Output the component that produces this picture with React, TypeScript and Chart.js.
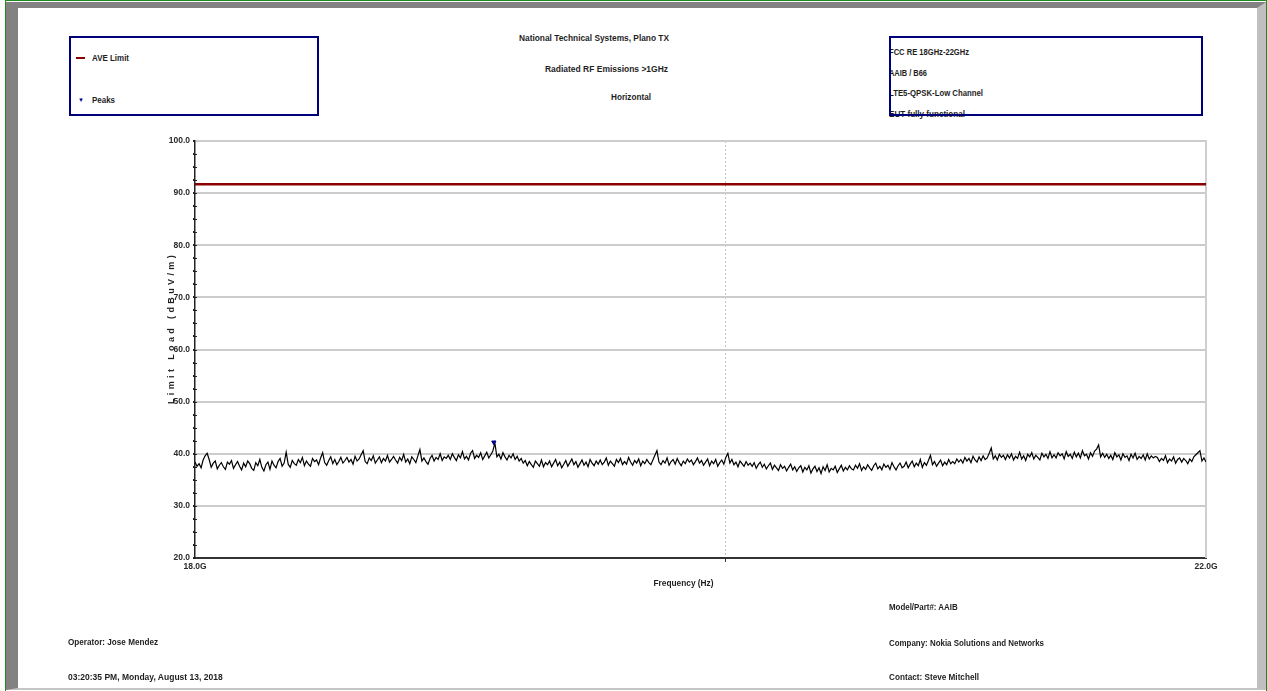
import React, { useEffect, useRef } from "react";
import { Chart, registerables } from "chart.js";

Chart.register(...registerables);

// ---------- data ----------
const freqStartGHz = 18;
const freqEndGHz = 22;
const xTickValues = [18, 20, 22];
const yMin = 20;
const yMax = 100;
const yLabelStep = 10;
const yMinorStep = 2.5;

const limitLabel = "AVE Limit";
const limitLevel = 91.7;

const peaksLabel = "Peaks";
const peakFreqs = [19.1];
const peakLevels = [42.2];

// measured trace (dBuV/m), sweep points spread evenly over the log frequency axis 18 GHz -> 22 GHz
const traceLevels = [
  38.4, 37.6, 38.1, 37.3, 38.8, 39.6, 40.1, 38.9, 37.4, 38.2, 38.6, 37.1, 37.8, 38.3, 37.5, 37.0, 38.4, 38.0, 38.7, 37.2, 37.9, 38.5, 37.6, 36.9, 38.2,
  37.5, 38.6, 38.1, 37.2, 36.8, 38.3, 37.7, 38.9, 37.4, 36.7, 37.9, 38.4, 37.0, 38.6, 37.8, 37.3, 38.5, 39.1, 37.6, 38.2, 40.3, 38.0, 37.4, 38.7, 38.1,
  37.8, 38.9, 38.3, 39.3, 37.7, 38.6, 38.0, 37.6, 39.1, 38.5, 38.8, 37.9, 39.2, 40.2, 38.3, 37.8, 38.7, 39.4, 38.1, 38.9, 37.9, 38.5, 39.3, 38.2, 38.7,
  39.3, 38.4, 38.9, 38.0, 39.5, 38.6, 39.0, 39.8, 40.6, 38.5, 38.1, 39.2, 38.7, 39.6, 38.2, 38.8, 39.4, 38.3, 39.1, 38.6, 39.7, 38.4, 38.9, 39.5, 38.8,
  38.2, 39.3, 38.7, 39.9, 38.4, 39.0, 38.1, 39.4, 38.9, 38.3, 39.6, 40.8, 38.6, 39.2, 38.5, 38.0, 39.1, 39.7, 38.6, 39.3, 38.9, 40.0, 38.7, 39.4, 39.1,
  39.7, 38.9, 40.0, 39.3, 38.7, 39.8, 39.2, 40.4, 39.0, 39.5, 38.8, 40.1, 40.6, 39.1, 39.7, 39.3, 40.2, 38.9, 39.6, 40.3, 39.2, 39.8, 40.5, 42.1, 39.4,
  39.9, 39.0, 40.2, 39.4, 38.8, 39.7, 39.2, 40.0, 38.9, 39.5, 38.6, 39.1, 38.2, 38.7, 37.7, 38.5, 37.9, 37.4, 38.6, 38.1, 37.6, 38.8, 37.5, 38.3, 37.9,
  38.6, 37.5, 38.2, 38.9, 37.7, 38.4, 37.3, 38.0, 38.7, 37.6, 38.3, 39.0, 37.9, 38.5, 37.4, 38.1, 38.8, 37.8, 38.4, 37.5, 38.9, 38.2, 37.7, 38.6, 38.0,
  38.8, 37.9, 38.4, 39.2, 37.8, 38.6, 38.1, 37.6, 38.9, 38.3, 39.1, 37.9, 38.5, 38.0, 39.3, 38.4, 37.8, 38.7, 38.2, 39.0, 37.7, 38.6, 38.1, 38.9, 38.3,
  37.9, 38.8, 39.7, 40.6, 38.4, 37.9, 38.7, 38.2, 39.2, 37.8, 38.5, 38.9, 38.0, 39.1, 38.3, 37.7, 38.6, 38.1, 39.0, 38.4, 38.8, 37.9, 38.5, 39.2, 38.2,
  38.7, 37.8, 38.4, 39.0, 37.7, 38.6, 38.1, 38.9, 37.6, 38.3, 38.8, 38.0, 39.3, 40.1, 38.2, 38.9, 37.9, 38.4, 37.5, 38.6, 38.1, 37.6, 38.5, 37.8, 38.2,
  37.6, 38.3, 37.2, 37.9, 38.4, 37.4, 38.0, 37.1, 37.7, 38.2, 37.0, 37.8, 37.3, 36.8, 37.9, 37.2, 37.6, 36.7, 37.4, 38.0, 36.9, 37.5, 36.6, 37.3, 37.7,
  36.5, 37.4, 36.9, 37.7, 36.3, 37.1, 37.6, 36.6, 37.3, 36.2, 37.5, 36.8, 37.9, 36.5, 37.2, 36.9, 37.6, 36.4, 37.1, 37.8, 36.7, 37.4, 36.9, 37.7, 37.1,
  36.9, 37.8, 37.2, 38.1, 36.8, 37.5, 37.0, 37.9, 37.3, 36.8, 37.7, 38.2, 37.1, 37.6, 36.9, 38.0, 37.4, 37.8, 37.0, 38.3, 37.5, 36.9, 37.7, 38.2, 37.3,
  37.6, 38.4, 37.3, 38.0, 38.6, 37.5, 38.2, 37.7, 38.9, 37.4, 38.3, 37.8, 38.7, 39.7, 37.9, 38.5, 37.6, 38.2, 38.8, 37.7, 38.4, 37.9, 38.9, 38.1, 38.5,
  38.1, 39.0, 38.4, 38.9, 38.2, 39.3, 38.6, 39.1, 38.3, 39.5, 38.8, 38.4, 39.4, 38.7, 39.6, 38.9, 39.2, 40.1, 41.1, 39.0, 39.6, 38.8, 39.9, 39.3, 39.7,
  38.9, 39.8, 39.2, 40.0, 38.8, 39.5, 39.1, 40.3, 39.0, 39.6, 38.7, 39.9, 39.4, 40.2, 39.0, 39.7, 39.3, 38.8, 40.1, 39.4, 39.9, 39.1, 40.4, 39.2, 39.8,
  39.2, 40.2, 39.6, 40.0, 39.0, 40.4, 39.5, 39.9, 39.1, 40.3, 39.4, 40.1, 39.2, 40.6, 39.6, 39.9, 39.0, 40.2, 39.5, 40.5, 40.9, 41.7, 39.4, 40.1, 39.3,
  39.9, 39.1, 39.7, 38.9, 40.2, 39.4, 39.8, 38.8, 40.0, 39.3, 39.6, 38.7, 39.9, 39.2, 40.1, 38.9, 39.5, 39.1, 39.8, 38.8, 40.0, 39.0, 39.6, 39.2, 39.5,
  39.3, 38.5, 39.1, 38.7, 39.6, 38.3, 39.0, 38.6, 39.4, 38.2, 38.9, 39.2, 38.4, 39.1, 38.7, 38.1, 39.0, 38.5, 39.4, 39.8, 40.2, 40.6, 38.6, 39.2, 38.4,
];

// ---------- texts ----------
const headerLines = ["National Technical Systems, Plano TX", "Radiated RF Emissions >1GHz", "Horizontal"];
const infoLines = ["FCC RE 18GHz-22GHz", "AAIB / B66", "LTE5-QPSK-Low Channel", "EUT fully functional"];
const footerLeft = ["Operator: Jose Mendez", "03:20:35 PM, Monday, August 13, 2018"];
const footerRight = ["Model/Part#: AAIB", "Company: Nokia Solutions and Networks", "Contact: Steve Mitchell"];
const xAxisTitle = "Frequency (Hz)";
const yAxisTitle = "Limit Load (dBuV/m)";

const FONT = '"Liberation Sans", Arial, sans-serif';
const W = 1267;
const H = 691;
const AREA = { left: 195, top: 141, right: 1206, bottom: 558 };
const Y_AXIS_W = 40;
const X_AXIS_H = 20;

let measureCtx: CanvasRenderingContext2D | null = null;
function measure(text: string, size: number): number {
  if (!measureCtx) measureCtx = document.createElement("canvas").getContext("2d");
  if (!measureCtx) return text.length * size * 0.55;
  measureCtx.font = `bold ${size}px ${FONT}`;
  return measureCtx.measureText(text).width;
}

function T(props: { x: number; y: number; w: number; size?: number; children: string; center?: boolean }) {
  const size = props.size || 9;
  const m = measure(props.children, size);
  const k = props.w / m;
  const left = props.center ? props.x - m / 2 : props.x;
  return (
    <div
      style={{
        position: "absolute",
        left,
        top: props.y - 7,
        height: 14,
        lineHeight: "14px",
        fontFamily: FONT,
        fontWeight: "bold",
        fontSize: size,
        color: "#1e1e1e",
        whiteSpace: "nowrap",
        transform: `scaleX(${k})`,
        transformOrigin: props.center ? "center center" : "left center",
      }}
    >
      {props.children}
    </div>
  );
}

export default function App() {
  const canvasRef = useRef<HTMLCanvasElement | null>(null);

  useEffect(() => {
    document.body.style.margin = "0";
    const canvas = canvasRef.current;
    if (!canvas) return;

    const n = traceLevels.length;
    const ratio = freqEndGHz / freqStartGHz;
    const tracePts = traceLevels.map((v, i) => ({ x: freqStartGHz * Math.pow(ratio, i / (n - 1)), y: v }));
    const limitPts = [
      { x: freqStartGHz, y: limitLevel },
      { x: freqEndGHz, y: limitLevel },
    ];
    const peakPts = peakFreqs.map((f, i) => ({ x: f, y: peakLevels[i] }));

    const edgePlugin = {
      id: "edge",
      beforeDatasetsDraw(chart: any) {
        const { ctx, chartArea, scales } = chart;
        const x = Math.round(scales.x.getPixelForValue(freqEndGHz));
        ctx.save();
        ctx.strokeStyle = "#cfcfcf";
        ctx.lineWidth = 2;
        ctx.beginPath();
        ctx.moveTo(x, chartArea.top - 1);
        ctx.lineTo(x, chartArea.bottom);
        ctx.stroke();
        // inner half of the y-axis minor ticks (ticks cross the axis)
        const y = scales.y;
        ctx.strokeStyle = "#222";
        ctx.lineWidth = 1;
        for (let v = yMin + yMinorStep; v < yMax; v += yMinorStep) {
          const py = Math.round(y.getPixelForValue(v)) + 0.5;
          ctx.beginPath();
          ctx.moveTo(chartArea.left, py);
          ctx.lineTo(chartArea.left + 2, py);
          ctx.stroke();
        }
        ctx.restore();
      },
    };

    const tickFont = { family: FONT, size: 8.5, weight: "bold" as const };

    const chart = new Chart(canvas, {
      type: "line",
      data: {
        datasets: [
          {
            label: peaksLabel,
            data: peakPts,
            showLine: false,
            pointStyle: "triangle",
            rotation: 180,
            pointRadius: 2.5,
            backgroundColor: "#000090",
            borderColor: "#000090",
            borderWidth: 1,
          },
          {
            label: limitLabel,
            data: limitPts,
            borderColor: "#8b0000",
            borderWidth: 2.5,
            pointRadius: 0,
          },
          {
            label: "Trace",
            data: tracePts,
            borderColor: "#000000",
            borderWidth: 1.2,
            pointRadius: 0,
            tension: 0,
          },
        ],
      },
      options: {
        responsive: false,
        animation: false,
        events: [],
        layout: {
          padding: {
            left: AREA.left - Y_AXIS_W,
            top: AREA.top,
            right: W - AREA.right,
            bottom: H - AREA.bottom - X_AXIS_H,
          },
        },
        plugins: { legend: { display: false }, tooltip: { enabled: false }, title: { display: false } },
        scales: {
          x: {
            type: "logarithmic",
            min: freqStartGHz,
            max: freqEndGHz,
            afterFit: (s: any) => {
              s.height = X_AXIS_H;
            },
            afterBuildTicks: (s: any) => {
              s.ticks = xTickValues.map((v) => ({ value: v }));
            },
            ticks: {
              font: tickFont,
              color: "#2a2a2a",
              padding: 0,
              maxRotation: 0,
              autoSkip: false,
              callback: (v: any) => (v === freqStartGHz || v === freqEndGHz ? Number(v).toFixed(1) + "G" : ""),
            },
            grid: {
              color: (c: any) => (c.tick && c.tick.value === 20 ? "#c4c4c4" : "transparent"),
              lineWidth: 1,
              tickLength: 4,
              tickColor: (c: any) => (c.tick && c.tick.value === 20 ? "#333" : "transparent"),
            },
            border: { display: true, color: "#333333", width: 2, dash: [2, 2] },
          },
          y: {
            type: "linear",
            min: yMin,
            max: yMax,
            afterFit: (s: any) => {
              s.width = Y_AXIS_W;
            },
            ticks: {
              stepSize: yMinorStep,
              font: tickFont,
              color: "#2a2a2a",
              padding: 3,
              autoSkip: false,
              callback: (v: any) => (Number(v) % yLabelStep === 0 ? Number(v).toFixed(1) : ""),
            },
            grid: {
              color: (c: any) =>
                c.tick && c.tick.value % yLabelStep === 0 && c.tick.value !== yMin ? "#cccccc" : "transparent",
              lineWidth: 2,
              tickLength: 2,
              tickColor: "#222",
            },
            border: { display: true, color: "#222222", width: 1.5 },
          },
        },
      },
      plugins: [edgePlugin],
    });

    return () => chart.destroy();
  }, []);

  const yTitleSize = 9;
  const yTitleLen = 152;
  const yTitleSpacing = (yTitleLen - measure(yAxisTitle, yTitleSize)) / yAxisTitle.length;

  return (
    <div style={{ position: "fixed", left: 0, top: 0, width: W, height: H, background: "#fff", overflow: "hidden" }}>
      {/* frame */}
      <div
        style={{
          position: "absolute",
          left: 5,
          top: 0,
          width: W - 5,
          height: H,
          boxSizing: "border-box",
          borderTop: "1px solid #1f8a1f",
          borderLeft: "1px solid #1f8a1f",
          borderRight: "1px solid #1f8a1f",
        }}
      >
        <div
          style={{
            position: "absolute",
            left: 0,
            top: 1,
            right: 0,
            height: H - 3,
            boxSizing: "border-box",
            borderTop: "6px solid #828282",
            borderLeft: "12px solid #828282",
            borderRight: "9px solid #c0c0c0",
            borderBottom: "2px solid #c4c4c4",
          }}
        />
      </div>

      {/* header */}
      <T x={519} y={38} w={150} size={9.5}>{headerLines[0]}</T>
      <T x={545} y={69} w={123}>{headerLines[1]}</T>
      <T x={611} y={97} w={40}>{headerLines[2]}</T>

      {/* legend box */}
      <div
        style={{
          position: "absolute",
          left: 69,
          top: 36,
          width: 250,
          height: 80,
          boxSizing: "border-box",
          border: "2px solid #00007a",
        }}
      />
      <div style={{ position: "absolute", left: 76, top: 57, width: 9, height: 2, background: "#8b0000" }} />
      <T x={92} y={58} w={37}>{limitLabel}</T>
      <div style={{ position: "absolute", left: 78, top: 97, fontSize: 6, color: "#000090", lineHeight: "6px", fontFamily: FONT }}>▼</div>
      <T x={92} y={100} w={23}>{peaksLabel}</T>

      {/* info box */}
      {infoLines.map((s, i) => (
        <T key={s} x={889} y={[52, 73, 93, 114][i]} w={[80, 38, 94, 76][i]}>
          {s}
        </T>
      ))}
      <div
        style={{
          position: "absolute",
          left: 889,
          top: 36,
          width: 314,
          height: 80,
          boxSizing: "border-box",
          border: "2px solid #00007a",
        }}
      />

      {/* chart */}
      <canvas ref={canvasRef} width={W} height={H} style={{ position: "absolute", left: 0, top: 0, width: W, height: H }} />

      {/* axis titles */}
      <T x={684} y={583} w={60} center>
        {xAxisTitle}
      </T>
      <div
        style={{
          position: "absolute",
          left: 171 - 100,
          top: 328 - 7,
          width: 200,
          height: 14,
          lineHeight: "14px",
          textAlign: "center",
          transform: "rotate(-90deg)",
          fontFamily: FONT,
          fontWeight: "bold",
          fontSize: yTitleSize,
          letterSpacing: `${yTitleSpacing}px`,
          color: "#1e1e1e",
          whiteSpace: "nowrap",
        }}
      >
        {yAxisTitle}
      </div>

      {/* footer */}
      <T x={68} y={642} w={90}>{footerLeft[0]}</T>
      <T x={68} y={677} w={155}>{footerLeft[1]}</T>
      <T x={889} y={607} w={69}>{footerRight[0]}</T>
      <T x={889} y={643} w={155}>{footerRight[1]}</T>
      <T x={889} y={677} w={90}>{footerRight[2]}</T>
    </div>
  );
}
